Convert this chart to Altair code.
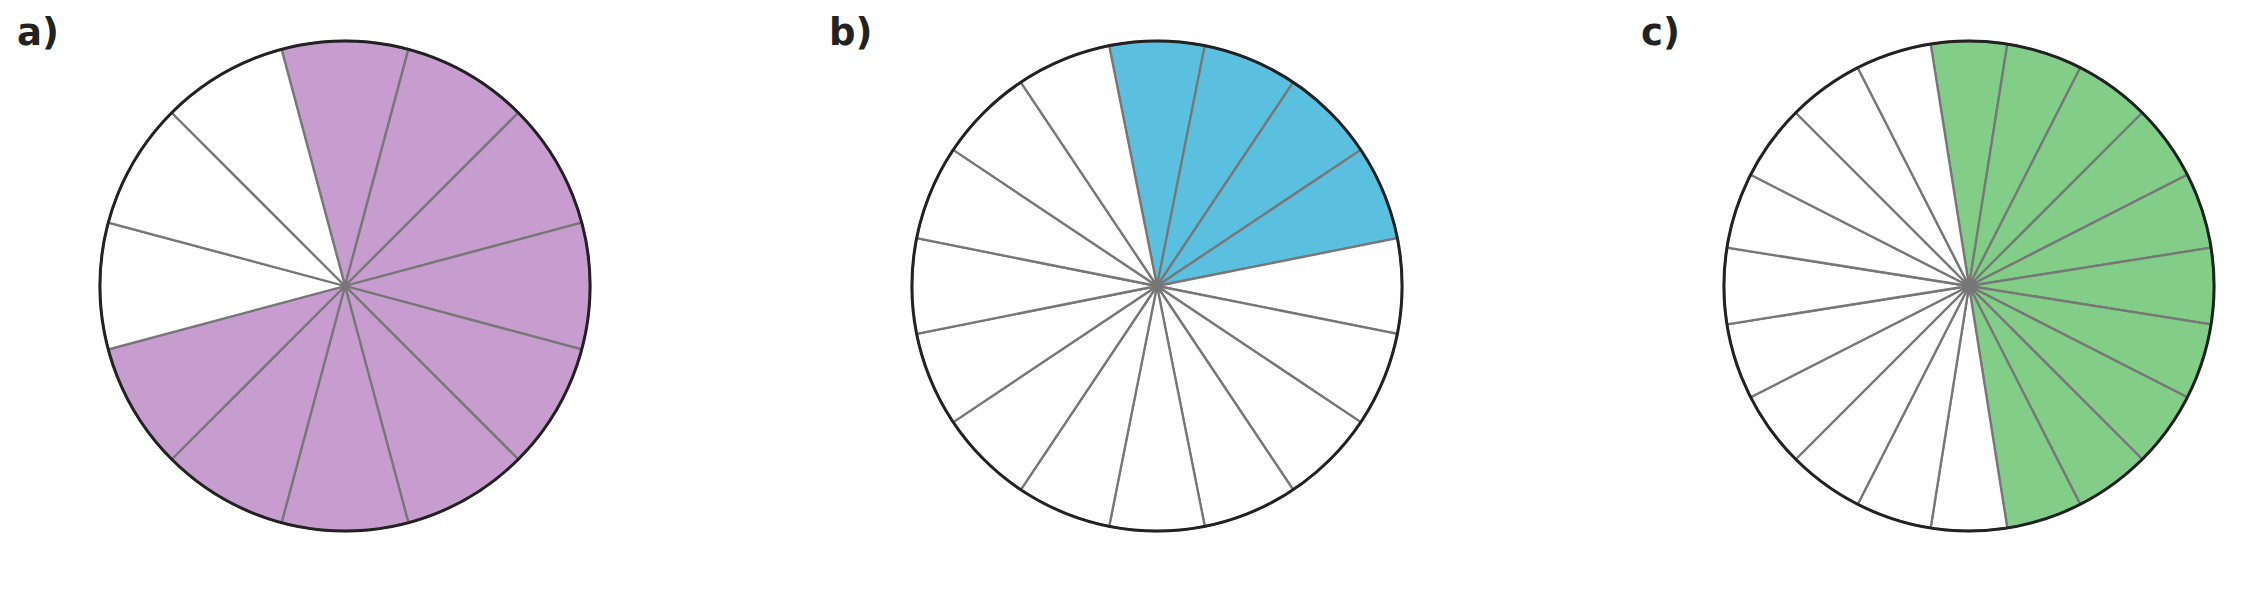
import math
import altair as alt
import pandas as pd

# ---- data ----
panel_labels = ["a)", "b)", "c)"]
slice_counts = [12, 16, 20]
shaded_counts = [9, 4, 10]
fill_colors = ["#c79ccf", "#5bc0e0", "#82ce88"]

CX, CY, R = 337, 278, 245
PANEL_W, PANEL_H = 600, 578


def panel(label, n, k, color):
    df = pd.DataFrame({
        "idx": list(range(n)),
        "value": [1] * n,
        "state": ["on" if i < k else "off" for i in range(n)],
    })
    half = math.pi / n  # first boundary sits half a slice left of 12 o'clock
    start = 2 * math.pi - half
    wedges = alt.Chart(df).mark_arc(
        radius=R, stroke="#777777", strokeWidth=2.3, strokeJoin="round"
    ).encode(
        theta=alt.Theta("value:Q", stack=True,
                        scale=alt.Scale(range=[start, start + 2 * math.pi])),
        order=alt.Order("idx:Q"),
        fill=alt.Fill("state:N", scale=alt.Scale(domain=["on", "off"], range=[color, "#ffffff"]),
                      legend=None),
        x=alt.value(CX),
        y=alt.value(CY),
    )
    rim = alt.Chart(pd.DataFrame({"v": [1]})).mark_arc(
        radius=R, theta=0, theta2=2 * math.pi, filled=False, fill=None,
        stroke="#222222", strokeWidth=3
    ).encode(x=alt.value(CX), y=alt.value(CY))
    text = alt.Chart(pd.DataFrame({"t": [label]})).mark_text(
        align="left", baseline="alphabetic", font="DejaVu Sans", fontWeight="bold",
        fontSize=37, color="#222222"
    ).encode(text="t:N", x=alt.value(9), y=alt.value(37))
    return alt.layer(wedges, rim, text).properties(width=PANEL_W, height=PANEL_H)


panels = [panel(l, n, k, c) for l, n, k, c in zip(panel_labels, slice_counts, shaded_counts, fill_colors)]
chart = (
    alt.hconcat(*panels, spacing=212)
    .resolve_scale(fill="independent", theta="independent")
    .properties(padding=0)
    .configure_view(stroke=None)
)

chart.save("out.html", embed_options={"renderer": "svg", "actions": False})
